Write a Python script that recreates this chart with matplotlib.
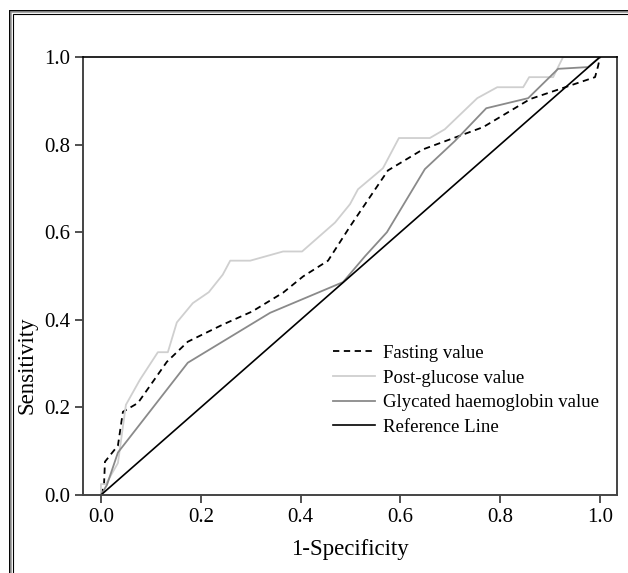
import numpy as np
import matplotlib
matplotlib.use("Agg")
import matplotlib.pyplot as plt
from matplotlib.patches import Rectangle

plt.rcParams['font.family'] = ['Liberation Serif', 'DejaVu Serif']

# ROC curve points (1-specificity, sensitivity)
fasting_x = [0, 0.006, 0.008, 0.034, 0.044, 0.074, 0.132, 0.174, 0.244, 0.303,
             0.365, 0.405, 0.455, 0.499, 0.575, 0.645, 0.766, 0.86, 0.99, 0.996, 1.0]
fasting_y = [0, 0.02, 0.076, 0.113, 0.19, 0.21, 0.304, 0.35, 0.389, 0.419,
             0.462, 0.499, 0.535, 0.613, 0.741, 0.789, 0.84, 0.904, 0.954, 0.979, 1.0]

post_x = [0, 0, 0.01, 0.034, 0.05, 0.078, 0.114, 0.134, 0.152, 0.184, 0.216,
          0.244, 0.259, 0.299, 0.365, 0.403, 0.469, 0.499, 0.515, 0.565, 0.597,
          0.659, 0.689, 0.754, 0.794, 0.846, 0.858, 0.906, 0.926, 1.0]
post_y = [0, 0.025, 0.025, 0.073, 0.206, 0.263, 0.326, 0.326, 0.394, 0.438, 0.463,
          0.503, 0.535, 0.535, 0.556, 0.556, 0.622, 0.664, 0.698, 0.746, 0.815,
          0.815, 0.835, 0.906, 0.931, 0.931, 0.954, 0.954, 1.0, 1.0]

hba1c_x = [0, 0.012, 0.034, 0.174, 0.339, 0.485, 0.529, 0.573, 0.649, 0.709,
           0.772, 0.856, 0.916, 0.976, 1.0]
hba1c_y = [0, 0.023, 0.097, 0.302, 0.416, 0.486, 0.545, 0.6, 0.744, 0.808,
           0.883, 0.906, 0.973, 0.977, 1.0]

ref_x = [0, 1]
ref_y = [0, 1]

ticks = [0.0, 0.2, 0.4, 0.6, 0.8, 1.0]
tick_labels = ['0.0', '0.2', '0.4', '0.6', '0.8', '1.0']

W, H = 628, 573
fig = plt.figure(figsize=(W / 100, H / 100), dpi=100)

# double frame around the chart (cut off on right / bottom)
def px_rect(x0, y0, lw, color):
    r = Rectangle((x0 / W, 0 - 0.1), 1.2, (H - y0) / H + 0.1, transform=fig.transFigure,
                  fill=False, edgecolor=color, linewidth=lw, clip_on=False)
    fig.patches.append(r)

px_rect(9.5, 10.5, 1.4, 'black')
px_rect(11, 12, 1.2, '#9a9a9a')
px_rect(12.5, 13.5, 0.8, 'black')

ax = fig.add_axes([83 / W, 1 - 495 / H, (617 - 83) / W, (495 - 57) / H])

ax.plot(fasting_x, fasting_y, color='black', linestyle=(0, (3.5, 2.5)), linewidth=1.3,
        label='Fasting value')
ax.plot(post_x, post_y, color='#cfcfcf', linewidth=1.3, label='Post-glucose value')
ax.plot(hba1c_x, hba1c_y, color='#8a8a8a', linewidth=1.3, label='Glycated haemoglobin value')
ax.plot(ref_x, ref_y, color='black', linewidth=1.2, label='Reference Line')

ax.set_xlim(-0.036, 1.034)
ax.set_ylim(0, 1)
ax.set_xticks(ticks)
ax.set_xticklabels(tick_labels)
ax.set_yticks(ticks)
ax.set_yticklabels(tick_labels)
ax.tick_params(axis='both', direction='out', length=6, width=1.2, color='#333333',
               labelsize=15, pad=3)

for side in ['left', 'bottom', 'right']:
    ax.spines[side].set_color('#444444')
    ax.spines[side].set_linewidth(1.4)
ax.spines['top'].set_color('black')
ax.spines['top'].set_linewidth(1.2)

ax.set_xlabel('1-Specificity', fontsize=16.5, labelpad=9)
ax.set_ylabel('Sensitivity', fontsize=16.5)
# SPSS puts the y label lower than centre
ax.yaxis.set_label_coords(-0.086, 0.297)

ax.legend(loc='upper left', bbox_to_anchor=(0.468, 0.343), frameon=False,
          fontsize=13.5, handlelength=2.25, handletextpad=0.4, labelspacing=0.4,
          borderpad=0, borderaxespad=0)

fig.savefig('out.png', dpi=100)
